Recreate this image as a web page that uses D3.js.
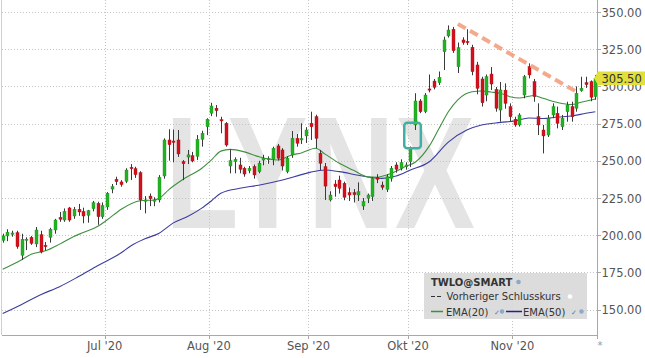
<!DOCTYPE html>
<html><head><meta charset="utf-8">
<script src="https://cdn.jsdelivr.net/npm/d3@7/dist/d3.min.js"></script>
<style>body{margin:0;background:#fff}svg{display:block}</style>
</head><body>
<script>
// ---- DATA ----
const opens  = [196.5,199.5,200.5,201.7,186.5,196.5,198.6,194.1,200.3,193.2,198.6,203.5,212,210.2,218.3,212.9,217.4,216,213.4,217.8,221.4,212.4,219,231,237.6,235.8,236.2,245.6,244.7,242,222.8,226.3,222.8,223.7,239.8,264,263.3,264,249.4,252.5,253.4,253,264.4,272.9,282,285.3,277.6,275.2,246.5,249.5,247.2,245,243.4,246.1,242.7,250.5,250.8,251,260,257.3,242.7,253.9,265.1,264,266.7,275.2,279.6,255,246,223.7,234.4,237.1,234.9,228.6,228.6,227,219.6,224.8,225.9,238.9,233.7,230.8,238.2,247.2,245,246,249.4,274.1,290.2,283,298.3,303.6,302.5,323.3,333.9,338.4,313.2,331.2,330.2,326.3,314.4,305,294.2,308.3,298,284.1,297.5,286.4,277.9,274.1,294.2,313.3,303.2,279.6,270.7,267.3,280.8,281.9,272.9,283,286.4,285.3,297.1,302.5,303.2,293.1];
const highs  = [201,204,203,203,201,198.6,199.5,205.5,203,195.4,205,211,215.6,218,219,219,221,218.5,217,223,222.5,222,229,234.4,239.3,237,245,247.8,246,243,226.3,228,225.5,240.4,265.1,271.2,271,270.7,250.5,257.3,256,267.3,270.2,278.6,289,287.5,279.6,276,257.7,252.3,252,246,246.5,247.5,250,254,253,259.5,261.3,258.5,253,270,268,275.2,272.6,283,281,257.3,248.5,229.5,237,240,236,232,231,235.5,225,228,239,241,236,241,246.5,249,251,249,259.6,295.4,291.5,295.5,308,305,310,333.4,341,340,329.5,333,338.4,328,316.5,306.5,308,313,299.6,303,302,288.6,279.6,282,307.7,315.5,305,288.6,274.1,280.8,288.6,286.4,280.8,289.7,289.7,300,306.5,306.5,304,307.7];
const lows   = [195,196,199,190.9,183.3,190,193.5,192,187.8,189.6,195,201,209,209,209,211,213,208,208.4,216,207,211,217,228.2,233.7,232.6,235,237.1,238.5,217,214.7,219.5,219.5,222,238,250.1,249,252.6,237,247.8,249,250.5,259.5,267.3,280,279.6,268.5,259.5,241.6,241.6,241.6,239.3,241.6,238,241.6,247,248,247,250.3,243.5,241.6,252,259.5,261.3,262,264,258.4,243.8,223.7,222.7,225.9,228,223.5,223,222,223,217,221.6,223,235,230.5,229,236,242,243.5,244,245.8,270.7,282,282,296,298,300.9,311,332.8,322.5,309,328,327.8,307.5,294.7,286.5,290,297.6,283,276.3,285,276.3,272.9,273,292,305.4,289.7,267.3,255,266,278.6,271.8,270.7,276.3,276.3,283,296.4,299,290,291];
const closes = [199.5,202,201.5,192.3,197.3,197.3,194.5,203.5,188.7,192.3,204,210.2,210.7,216,210.2,217.4,215.6,212.9,216.5,221.8,212.4,220,228.2,232.6,236,234,243.8,244.7,240.7,223.7,223.7,224.5,223.7,238.9,264,260.8,262.4,254.6,248,254,249.9,264.4,268.5,277.9,286.8,283.7,277.2,260.6,250.1,251,244.3,241.1,245,240.5,248.4,251.7,251.5,258.4,251.7,246.5,251.7,265.1,261.8,265,270.7,272.9,265.1,248.3,233,227,232.6,231.5,225.5,227,227.2,229.2,222.5,227,238.2,237.6,232.2,239.3,245,244.3,248.8,247.2,258.4,290.2,283,294.2,297.6,299.4,306.1,331.2,337.9,324,326,329.4,329.8,309.9,298.7,289,306.5,301.6,285.3,297.6,288.6,279.6,274.1,280.8,306.5,307.7,293.1,274.1,266.7,278.6,286.4,275.2,278.6,287.5,279.6,295.4,298.7,301.2,292.7,305.5];

const ema20Idx = [0,4,6,9,12,15,17,20,22,25,29,32,33,35,38,42,44,46,48,51,54,56,58,61,63,66,68,71,74,77,79,81,83,85,87,90,92,94,96,99,101,103,105,107,109,111,112,114,117,120,122,125];
const ema20Val = [177.1,183.5,187.2,189.5,194,199.2,201.8,205.8,210.2,217.5,223.2,223.7,224.8,230.5,237.4,245,250.5,256.5,257.7,256,252.8,251.2,250.5,253.9,255.3,258.4,254.5,248.3,243.6,239.2,238.9,240.5,243,246.3,249,260,271.5,283,291,296.4,296.9,296.2,295.4,293.1,292.2,293.4,293.9,292,289.2,287.8,289.3,291.5];
const ema50Idx = [0,4,8,12,16,20,25,27,30,33,36,39,42,44,46,50,54,59,63,65,68,71,75,78,80,83,86,90,94,98,101,105,108,111,114,117,120,123,125];
const ema50Val = [147.4,153.5,160,165.4,172.2,179.5,188.2,192.8,197.6,201.3,208.3,212.6,218.2,223,228.2,231.5,233.6,237.1,240.7,242.4,243.8,242.7,240.3,238.7,238.2,239.8,243.8,249.4,262.5,270.8,274,275.8,276.8,278.8,278.4,279.4,280.1,281.9,283];

const monthLabels   = ["Jul '20","Aug '20","Sep '20","Okt '20","Nov '20"];
const monthStartIdx = [22,44,65,86,108];
const yTicks = [150,175,200,225,250,275,300,325,350];
const lastPrice = 305.50;
const trendLine = [[96,342],[121,296.5]];
const highlightBox = {i0:84.7, i1:88.2, p0:258.5, p1:275.5};
const legendTitle = "TWLO@SMART";
const legendPrev = "Vorheriger Schlusskurs";
const legendEma = ["EMA(20)","EMA(50)"];

// ---- CHART ----
const W = 645, H = 358;
const plot = {left: 2, right: 597, top: 0, bottom: 335};
const x = d3.scaleLinear().domain([0, 125]).range([2.7, 595.3]);
const y = d3.scaleLinear().domain([150, 350]).range([309.6, 12]);

const svg = d3.select("body").append("svg").attr("width", W).attr("height", H)
  .style("font-family", "'DejaVu Sans', Verdana, sans-serif");

// watermark
svg.append("text").attr("x", 165).attr("y", 228)
  .attr("font-family", "'Liberation Sans', Arial, sans-serif").attr("font-weight", "bold")
  .attr("font-size", 160).attr("textLength", 310).attr("lengthAdjust", "spacingAndGlyphs")
  .attr("fill", "#e4e4e4").text("LYNX");

// grid
const grid = svg.append("g").attr("stroke", "#c4c4c4").attr("stroke-dasharray", "1,2").attr("stroke-width", 1);
yTicks.forEach(t => grid.append("line").attr("x1", plot.left).attr("x2", plot.right)
  .attr("y1", Math.round(y(t)) + 0.5).attr("y2", Math.round(y(t)) + 0.5));
monthStartIdx.forEach(m => grid.append("line").attr("y1", plot.top).attr("y2", plot.bottom)
  .attr("x1", Math.round(x(m - 0.5)) + 0.5).attr("x2", Math.round(x(m - 0.5)) + 0.5));

// axes frame
const ax = svg.append("g").attr("stroke", "#a8a8a8").attr("stroke-width", 1);
ax.append("line").attr("x1", plot.left - 0.5).attr("x2", plot.left - 0.5).attr("y1", plot.top).attr("y2", plot.bottom).attr("stroke", "#d0d0d0");
ax.append("line").attr("x1", plot.right + 0.5).attr("x2", plot.right + 0.5).attr("y1", plot.top).attr("y2", plot.bottom + 4);
ax.append("line").attr("x1", plot.left).attr("x2", plot.right).attr("y1", plot.bottom + 0.5).attr("y2", plot.bottom + 0.5);
yTicks.forEach(t => ax.append("line").attr("x1", plot.right).attr("x2", plot.right + 4)
  .attr("y1", Math.round(y(t)) + 0.5).attr("y2", Math.round(y(t)) + 0.5));
monthStartIdx.forEach(m => ax.append("line").attr("y1", plot.bottom).attr("y2", plot.bottom + 4)
  .attr("x1", Math.round(x(m - 0.5)) + 0.5).attr("x2", Math.round(x(m - 0.5)) + 0.5));

// y labels
svg.append("g").selectAll("text").data(yTicks).join("text")
  .attr("x", 601.5).attr("y", d => y(d) + 4.5).attr("font-size", 11.5).attr("fill", "#555")
  .text(d => d.toFixed(2));
// x labels
svg.append("g").selectAll("text").data(monthLabels).join("text")
  .attr("x", (d, i) => x(monthStartIdx[i] - 0.5)).attr("y", 350).attr("text-anchor", "middle")
  .attr("font-size", 11.5).attr("fill", "#555").text(d => d);
svg.append("text").attr("x", 600).attr("y", 349).attr("text-anchor", "middle").attr("font-size", 10).attr("fill", "#999").text("*");

// EMA lines
const clip = svg.append("clipPath").attr("id", "pc").append("rect")
  .attr("x", plot.left).attr("y", plot.top).attr("width", plot.right - plot.left).attr("height", plot.bottom - plot.top);
const line = d3.line().x(d => x(d[0])).y(d => y(d[1])).curve(d3.curveMonotoneX);
svg.append("path").datum(ema50Idx.map((d, i) => [d, ema50Val[i]])).attr("d", line)
  .attr("fill", "none").attr("stroke", "#3c3ca0").attr("stroke-width", 1.1).attr("clip-path", "url(#pc)");
svg.append("path").datum(ema20Idx.map((d, i) => [d, ema20Val[i]])).attr("d", line)
  .attr("fill", "none").attr("stroke", "#3f8f3f").attr("stroke-width", 1.1).attr("clip-path", "url(#pc)");

// candles
const idx = d3.range(closes.length);
const cg = svg.append("g").attr("clip-path", "url(#pc)");
cg.selectAll("line.w").data(idx).join("line").attr("class", "w")
  .attr("x1", i => Math.round(x(i)) + 0.5).attr("x2", i => Math.round(x(i)) + 0.5)
  .attr("y1", i => y(highs[i])).attr("y2", i => y(lows[i])).attr("stroke", "#3a3a3a").attr("stroke-width", 1);
cg.selectAll("rect.b").data(idx).join("rect").attr("class", "b")
  .attr("x", i => Math.round(x(i)) - 1).attr("width", 3)
  .attr("y", i => y(Math.max(opens[i], closes[i])))
  .attr("height", i => Math.max(1.2, Math.abs(y(opens[i]) - y(closes[i]))))
  .attr("fill", i => closes[i] >= opens[i] ? "#22b322" : "#d3111c")
  .attr("stroke", i => closes[i] >= opens[i] ? "#1a8f1a" : "#a80e16").attr("stroke-width", 0.4);

// trend line
svg.append("line").attr("x1", x(trendLine[0][0])).attr("y1", y(trendLine[0][1]))
  .attr("x2", x(trendLine[1][0])).attr("y2", y(trendLine[1][1]))
  .attr("stroke", "#f39a78").attr("stroke-opacity", 0.85).attr("stroke-width", 4).attr("stroke-dasharray", "9,5");

// highlight box
svg.append("rect").attr("x", x(highlightBox.i0)).attr("y", y(highlightBox.p1))
  .attr("width", x(highlightBox.i1) - x(highlightBox.i0)).attr("height", y(highlightBox.p0) - y(highlightBox.p1))
  .attr("rx", 3).attr("fill", "none").attr("stroke", "#3fb0a3").attr("stroke-width", 2.5);

// last price label
const ly = y(lastPrice);
svg.append("path").attr("d", `M594,${ly} L598,${ly - 6.8} L645,${ly - 6.8} L645,${ly + 6.8} L598,${ly + 6.8} Z`).attr("fill", "#e2de3a");
svg.append("text").attr("x", 601.5).attr("y", ly + 4.5).attr("font-size", 11.5).attr("fill", "#333").text(lastPrice.toFixed(2));

// legend
const lg = svg.append("g");
lg.append("rect").attr("x", 424).attr("y", 273).attr("width", 163).attr("height", 46).attr("fill", "#d8d8d8").attr("fill-opacity", 0.9);
lg.append("text").attr("x", 431).attr("y", 285.5).attr("font-size", 10).attr("font-weight", "bold").attr("fill", "#333").text(legendTitle);
lg.append("circle").attr("cx", 518.5).attr("cy", 282).attr("r", 2.3).attr("fill", "#8fa8c8");
lg.append("line").attr("x1", 431).attr("x2", 443).attr("y1", 296.5).attr("y2", 296.5).attr("stroke", "#333").attr("stroke-width", 1.2).attr("stroke-dasharray", "4,2");
lg.append("text").attr("x", 446.5).attr("y", 300).attr("font-size", 10).attr("fill", "#333").text(legendPrev);
lg.append("circle").attr("cx", 570).attr("cy", 296.5).attr("r", 2.3).attr("fill", "#fff");
lg.append("line").attr("x1", 431).attr("x2", 443).attr("y1", 311.5).attr("y2", 311.5).attr("stroke", "#3f8f3f").attr("stroke-width", 1.5);
lg.append("text").attr("x", 446).attr("y", 315.5).attr("font-size", 10).attr("fill", "#333").text(legendEma[0]);
lg.append("text").attr("x", 494).attr("y", 314.5).attr("font-size", 7).attr("fill", "#5577bb").text("✓");
lg.append("circle").attr("cx", 502).attr("cy", 311.5).attr("r", 2.2).attr("fill", "#8fa8c8");
lg.append("line").attr("x1", 506).attr("x2", 522).attr("y1", 311.5).attr("y2", 311.5).attr("stroke", "#22228a").attr("stroke-width", 1.5);
lg.append("text").attr("x", 523).attr("y", 315.5).attr("font-size", 10).attr("fill", "#333").text(legendEma[1]);
lg.append("text").attr("x", 571).attr("y", 314.5).attr("font-size", 7).attr("fill", "#5577bb").text("✓");
lg.append("circle").attr("cx", 581.5).attr("cy", 311.5).attr("r", 2.2).attr("fill", "#8fa8c8");
</script>
</body></html>
